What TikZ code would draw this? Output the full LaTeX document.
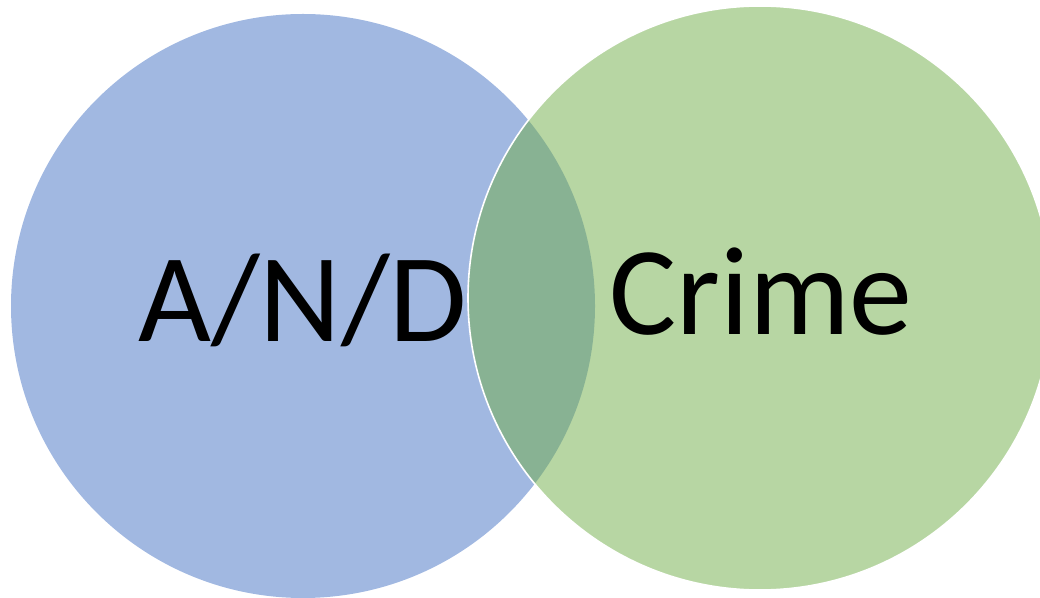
\documentclass[tikz,border=0pt]{standalone}
\usepackage{fontspec}
\setmainfont{Carlito}
\begin{document}
\begin{tikzpicture}[x=1pt,y=1pt,
  setA/.style={fill={rgb,255:red,68;green,114;blue,196}, fill opacity=0.5, draw=none},
  setB/.style={fill={rgb,255:red,112;green,173;blue,71}, fill opacity=0.5, draw=white, draw opacity=1, line width=1.6pt},
  lbl/.style={font=\fontsize{126}{130}\selectfont, text=black, inner sep=0pt, anchor=base west}]
\useasboundingbox (0,0) rectangle (1040,597);
\path[setA] (303,291) circle (292);
\path[setB] (760,299) circle (292);
\node[lbl] (and) at (138,255) {A/N/D};
\node[lbl] (crime) at (609,262) {Crime};
\end{tikzpicture}
\end{document}
